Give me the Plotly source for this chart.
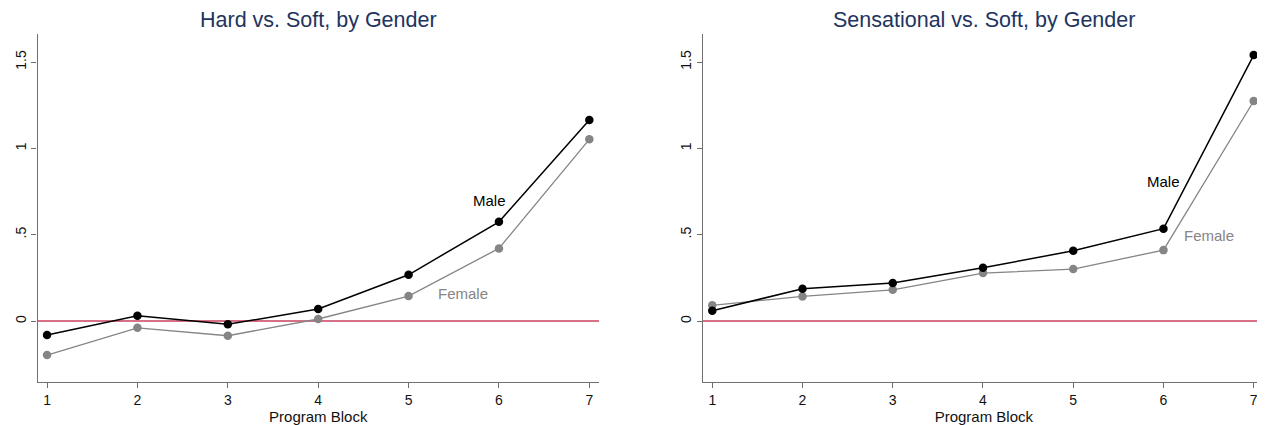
import plotly.graph_objects as go

blocks = [1, 2, 3, 4, 5, 6, 7]
hard_male = [-0.081, 0.031, -0.019, 0.070, 0.268, 0.575, 1.165]
hard_female = [-0.197, -0.039, -0.085, 0.012, 0.145, 0.421, 1.053]
sens_male = [0.060, 0.187, 0.220, 0.309, 0.407, 0.535, 1.541]
sens_female = [0.091, 0.143, 0.181, 0.278, 0.301, 0.411, 1.275]
titles = ["Hard vs. Soft, by Gender", "Sensational vs. Soft, by Gender"]
y_ticks = [0, 0.5, 1, 1.5]
y_tick_text = ["0", ".5", "1", "1.5"]
label_pos = [((5.897, 0.698), (5.60, 0.162)), ((6.00, 0.807), (6.50, 0.498))]

FONT = "Liberation Sans, Arial, Helvetica, sans-serif"
MALE_C = "#000000"
FEMALE_C = "#858585"
RED = "#c9405f"
TITLE_C = "#22345e"
AXIS_C = "#707070"

W, H = 1265, 425
OFF = 8  # page body margin offset


def px_x(p):
    return (p - OFF) / W


def px_y(p):
    return 1 - (p - OFF) / H


fig = go.Figure()
panels = [(hard_male, hard_female), (sens_male, sens_female)]
domains = [(px_x(37.5), px_x(599)), (px_x(702.7), px_x(1265))]
xranges = [(0.894, 7.107), (0.894, 7.125)]
ydomain = [px_y(382), px_y(34)]

for i, (male, female) in enumerate(panels):
    xa = "x" if i == 0 else "x2"
    ya = "y" if i == 0 else "y2"
    fig.add_trace(go.Scatter(x=blocks, y=female, mode="lines+markers", xaxis=xa, yaxis=ya,
                             line=dict(color=FEMALE_C, width=1.3),
                             marker=dict(color=FEMALE_C, size=8.5), showlegend=False,
                             cliponaxis=False))
    fig.add_trace(go.Scatter(x=blocks, y=male, mode="lines+markers", xaxis=xa, yaxis=ya,
                             line=dict(color=MALE_C, width=1.5),
                             marker=dict(color=MALE_C, size=8.5), showlegend=False,
                             cliponaxis=False))
    fig.add_shape(type="line", xref=xa + " domain", yref=ya, x0=0, x1=1, y0=0, y1=0,
                  line=dict(color=RED, width=1.6), layer="below")
    (mx, my), (fx, fy) = label_pos[i]
    fig.add_annotation(x=mx, y=my, xref=xa, yref=ya, text="Male", showarrow=False,
                       xanchor="center", yanchor="middle",
                       font=dict(family=FONT, size=15, color=MALE_C))
    fig.add_annotation(x=fx, y=fy, xref=xa, yref=ya, text="Female", showarrow=False,
                       xanchor="center", yanchor="middle",
                       font=dict(family=FONT, size=15, color=FEMALE_C))
    d0, d1 = domains[i]
    fig.add_annotation(x=(d0 + d1) / 2, y=px_y(19.5), xref="paper", yref="paper",
                       xanchor="center", yanchor="middle", text=titles[i], showarrow=False,
                       font=dict(family=FONT, size=21.5, color=TITLE_C))

axis_common = dict(showline=True, linecolor=AXIS_C, linewidth=1.2, showgrid=False,
                   zeroline=False, ticks="outside", ticklen=5, tickcolor=AXIS_C,
                   tickwidth=1.2,
                   tickfont=dict(family=FONT, size=14, color="#111111"))

for i in range(2):
    xkey = "xaxis" if i == 0 else "xaxis2"
    ykey = "yaxis" if i == 0 else "yaxis2"
    xa = dict(axis_common, domain=list(domains[i]), range=list(xranges[i]),
              tickvals=blocks, ticktext=[str(b) for b in blocks],
              title=dict(text="Program Block", font=dict(family=FONT, size=15, color="#111111"),
                         standoff=0),
              anchor="y" if i == 0 else "y2")
    ya = dict(axis_common, domain=ydomain, range=[-0.353, 1.663],
              tickvals=y_ticks, ticktext=y_tick_text, tickangle=-90,
              anchor="x" if i == 0 else "x2")
    fig.update_layout(**{xkey: xa, ykey: ya})

fig.update_layout(width=W, height=H, margin=dict(l=0, r=0, t=0, b=0),
                  plot_bgcolor="white", paper_bgcolor="white",
                  font=dict(family=FONT))

fig.write_html("out.html")
